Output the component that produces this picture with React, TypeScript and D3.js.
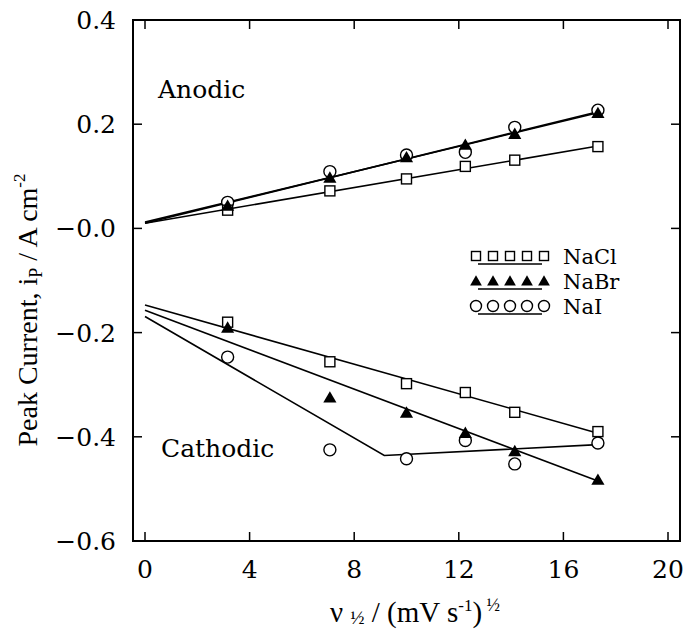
import React from "react";
import * as d3 from "d3";

// ---- data ----
const xVals = [3.16, 7.07, 10.0, 12.25, 14.14, 17.32];

const anodicNaCl = [0.035, 0.072, 0.095, 0.119, 0.131, 0.157];
const anodicNaBr = [0.043, 0.097, 0.136, 0.160, 0.181, 0.221];
const anodicNaI = [0.050, 0.109, 0.141, 0.146, 0.194, 0.227];

const cathodicNaCl = [-0.180, -0.256, -0.298, -0.315, -0.353, -0.390];
const cathodicNaBr = [-0.191, -0.325, -0.354, -0.393, -0.428, -0.483];
const cathodicNaI = [-0.247, -0.425, -0.442, -0.407, -0.452, -0.412];

// fitted lines
const fitX = [0, 17.32];
const fitAnodicNaCl = [0.010, 0.158];
const fitAnodicNaBr = [0.012, 0.222];
const fitAnodicNaI = [0.010, 0.224];
const fitCathodicNaCl = [-0.147, -0.393];
const fitCathodicNaBr = [-0.157, -0.485];
const fitCathNaIX = [0, 9.15, 17.32];
const fitCathodicNaI = [-0.169, -0.436, -0.415];

const xTicks = [0, 4, 8, 12, 16, 20];
const yTicks = [0.4, 0.2, 0.0, -0.2, -0.4, -0.6];
const yTickLabels = ["0.4", "0.2", "\u22120.0", "\u22120.2", "\u22120.4", "\u22120.6"];
const legendNames = ["NaCl", "NaBr", "NaI"];

const W = 685;
const H = 629;

const x = d3.scaleLinear().domain([0, 20]).range([145, 668]);
const y = d3.scaleLinear().domain([-0.6, 0.4]).range([541, 20]);

const line = d3
  .line<[number, number]>()
  .x((d) => x(d[0]))
  .y((d) => y(d[1]));

const zip = (xs: number[], ys: number[]) =>
  xs.map((v, i) => [v, ys[i]] as [number, number]);

const tickFont = "'DejaVu Serif', serif";
const titleFont = "'Liberation Serif', 'Times New Roman', serif";

function Square({ cx, cy, s }: { cx: number; cy: number; s: number }) {
  return (
    <rect
      x={cx - s / 2}
      y={cy - s / 2}
      width={s}
      height={s}
      fill="white"
      stroke="black"
      strokeWidth={1.4}
    />
  );
}
function Circle({ cx, cy, r }: { cx: number; cy: number; r: number }) {
  return <circle cx={cx} cy={cy} r={r} fill="white" stroke="black" strokeWidth={1.4} />;
}
function Tri({ cx, cy, s }: { cx: number; cy: number; s: number }) {
  const sym = d3.symbol().type(d3.symbolTriangle).size(s)();
  return <path d={sym || ""} transform={`translate(${cx},${cy + 1})`} fill="black" />;
}

export default function App() {
  const left = 133;
  const right = 680;
  const top = 20;
  const bottom = 541;
  const tl = 9;

  const lineStyle = { fill: "none", stroke: "black", strokeWidth: 1.6 };

  const renderSeries = (
    vals: number[],
    kind: "sq" | "tri" | "circ",
    key: string
  ) =>
    vals.map((v, i) => {
      const cx = x(xVals[i]);
      const cy = y(v);
      if (kind === "sq") return <Square key={key + i} cx={cx} cy={cy} s={10} />;
      if (kind === "circ") return <Circle key={key + i} cx={cx} cy={cy} r={6} />;
      return <Tri key={key + i} cx={cx} cy={cy} s={75} />;
    });

  const legendRows = [256, 281, 306];
  const legendXs = [476, 493, 510, 527, 544];

  return (
    <svg
      width={W}
      height={H}
      style={{ position: "absolute", left: 0, top: 0, background: "white" }}
    >
      <rect x={0} y={0} width={W} height={H} fill="white" />
      {/* frame */}
      <path
        d={`M${left},${top}H${right}V${bottom}H${left}Z`}
        fill="none"
        stroke="black"
        strokeWidth={2}
      />
      {/* x ticks */}
      {xTicks.map((t) => (
        <g key={"xt" + t}>
          <line x1={x(t)} x2={x(t)} y1={bottom} y2={bottom - tl} stroke="black" strokeWidth={1.5} />
          <line x1={x(t)} x2={x(t)} y1={top} y2={top + tl} stroke="black" strokeWidth={1.5} />
          <text
            x={x(t)}
            y={578}
            textAnchor="middle"
            fontFamily={tickFont}
            fontSize={25}
          >
            {t}
          </text>
        </g>
      ))}
      {/* y ticks */}
      {yTicks.map((t, i) => (
        <g key={"yt" + i}>
          <line x1={left} x2={left + tl} y1={y(t)} y2={y(t)} stroke="black" strokeWidth={1.5} />
          <line x1={right} x2={right - tl} y1={y(t)} y2={y(t)} stroke="black" strokeWidth={1.5} />
          <text
            x={116}
            y={y(t) + 9}
            textAnchor="end"
            fontFamily={tickFont}
            fontSize={25}
          >
            {yTickLabels[i]}
          </text>
        </g>
      ))}

      {/* fitted lines */}
      <path d={line(zip(fitX, fitAnodicNaCl)) || ""} {...lineStyle} />
      <path d={line(zip(fitX, fitAnodicNaBr)) || ""} {...lineStyle} />
      <path d={line(zip(fitX, fitAnodicNaI)) || ""} {...lineStyle} />
      <path d={line(zip(fitX, fitCathodicNaCl)) || ""} {...lineStyle} />
      <path d={line(zip(fitX, fitCathodicNaBr)) || ""} {...lineStyle} />
      <path d={line(zip(fitCathNaIX, fitCathodicNaI)) || ""} {...lineStyle} />

      {/* markers */}
      {renderSeries(anodicNaI, "circ", "ai")}
      {renderSeries(cathodicNaI, "circ", "ci")}
      {renderSeries(anodicNaCl, "sq", "ac")}
      {renderSeries(cathodicNaCl, "sq", "cc")}
      {renderSeries(anodicNaBr, "tri", "ab")}
      {renderSeries(cathodicNaBr, "tri", "cb")}

      {/* region labels */}
      <text x={158} y={98} fontFamily={tickFont} fontSize={25}>
        Anodic
      </text>
      <text x={161} y={457} fontFamily={tickFont} fontSize={25}>
        Cathodic
      </text>

      {/* legend */}
      {legendNames.map((name, r) => (
        <g key={name}>
          {legendXs.map((lx, k) =>
            r === 0 ? (
              <Square key={k} cx={lx} cy={legendRows[r]} s={9} />
            ) : r === 1 ? (
              <Tri key={k} cx={lx} cy={legendRows[r]} s={60} />
            ) : (
              <Circle key={k} cx={lx} cy={legendRows[r]} r={5.5} />
            )
          )}
          <line
            x1={legendXs[0] + 2}
            x2={legendXs[4] - 2}
            y1={legendRows[r] + 8}
            y2={legendRows[r] + 8}
            stroke="black"
            strokeWidth={1.3}
          />
          <text x={563} y={legendRows[r] + 8} fontFamily={tickFont} fontSize={21}>
            {name}
          </text>
        </g>
      ))}

      {/* axis titles */}
      <text x={415} y={622} textAnchor="middle" fontFamily={titleFont} fontSize={29}>
        <tspan>ν </tspan>
        <tspan fontSize={19} dy={2}>½</tspan>
        <tspan dy={-2}> / (mV s</tspan>
        <tspan fontSize={17} dy={-11}>-1</tspan>
        <tspan dy={11}>)</tspan>
        <tspan fontSize={18} dy={-11}> ½</tspan>
      </text>
      <text
        transform="translate(37,310) rotate(-90)"
        textAnchor="middle"
        fontFamily={titleFont}
        fontSize={28}
      >
        <tspan>Peak Current, i</tspan>
        <tspan fontSize={18} dy={5}>P</tspan>
        <tspan dy={-5}> / A cm</tspan>
        <tspan fontSize={17} dy={-12}>-2</tspan>
      </text>
    </svg>
  );
}
